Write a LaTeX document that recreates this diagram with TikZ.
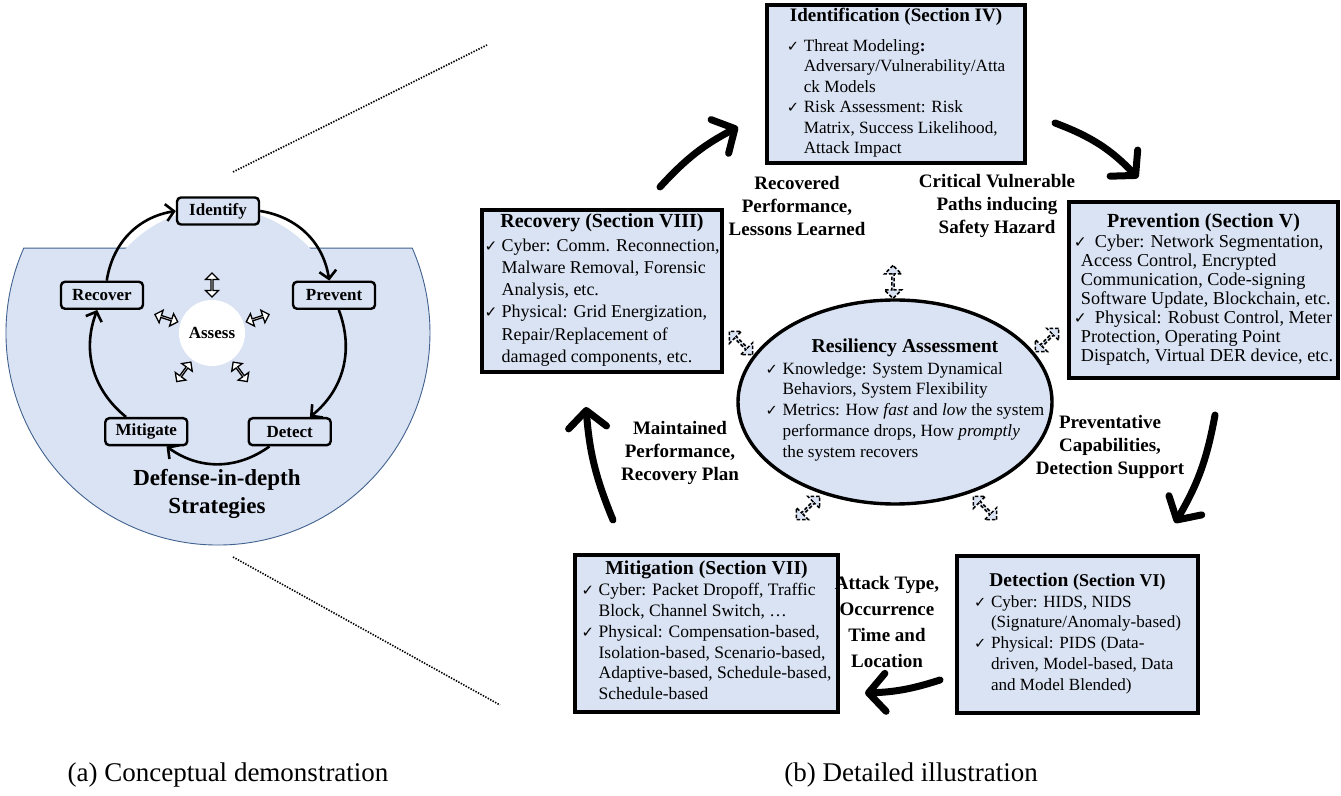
\documentclass[tikz,border=0pt]{standalone}
\usepackage{fontspec}
\setmainfont{Liberation Serif}
\newfontfamily\symf{DejaVu Sans}[Scale=0.85]
\usetikzlibrary{arrows.meta,shapes.arrows,shapes.geometric}
\definecolor{paleblue}{HTML}{DAE3F3}
\definecolor{rimblue}{HTML}{41628F}
\newcommand{\fs}[2]{\fontsize{#1}{#2}\selectfont}
\newcommand{\ck}[1][17pt]{\makebox[#1][l]{\symf ✓}}
\newcommand{\ind}[1][17pt]{\hspace*{#1}}
\tikzset{
  cycbox/.style={draw,line width=2.4pt,rounded corners=4pt,fill=paleblue,
    minimum width=82pt,minimum height=27pt,inner sep=0pt,font=\fs{17}{20}\bfseries},
  cycarr/.style={line width=2.6pt,-{Straight Barb[length=8pt,width=17pt]}},
  wdbl/.style={double arrow,draw,fill=white,line width=1.3pt,minimum height=24pt,
    minimum width=13pt,double arrow head extend=3.5pt,inner sep=0pt},
  secbox/.style={draw,line width=3.6pt,fill=paleblue,align=center,inner sep=0pt},
  ddbl/.style={double arrow,draw,fill=paleblue,line width=1.5pt,dash pattern=on 3.5pt off 2pt,
    minimum height=33pt,minimum width=17pt,double arrow head extend=4.5pt,inner sep=0pt},
  flowlbl/.style={align=center,font=\fs{19}{23}\bfseries},
  bigarr/.style={line width=7pt,line cap=round,-{Straight Barb[length=17pt,width=38pt,round]}},
  zoomline/.style={line width=1.6pt,dash pattern=on 1.4pt off 1.4pt},
}
\begin{document}
\begin{tikzpicture}[x=1pt,y=1pt]
\useasboundingbox (0,0) rectangle (1341,795);
% (a) conceptual part
\coordinate (cc) at (218,462);
\draw[fill=paleblue,draw=rimblue,line width=0.9pt] (cc) ++(156.4:212) arc[start angle=156.4,end angle=383.6,radius=212] -- cycle;
\fill[paleblue] (cc) circle (125);
\node[circle,fill=white,minimum size=66pt,inner sep=0pt,font=\fs{17}{20}\bfseries] (ass) at (212,462) {Assess};
\foreach \a/\n/\t in {90/idf/Identify,18/prv/Prevent,-54/dtc/Detect,-126/mtg/Mitigate,162/rcv/Recover}
  \node[cycbox] (\n) at ([shift={(\a:122)}]cc) {\t};
\foreach \s/\e in {idf/prv,prv/dtc,dtc/mtg,mtg/rcv,rcv/idf}
  \draw[cycarr] (\s) to[bend left=36] (\e);
\foreach \a in {90,18,-54,-126,162}
  \node[wdbl,rotate=\a] (s\a) at ([shift={(\a:48)}]ass) {};
\node[align=center,font=\fs{23}{28}\bfseries] (ttl) at (217,301) {Defense-in-depth\\Strategies};
\coordinate (z1) at (233,623); \coordinate (z2) at (487,750);
\coordinate (z3) at (233,238); \coordinate (z4) at (500,90);
\draw[zoomline] (z1) -- (z2) (z3) -- (z4);
% (b) detailed part
\node[secbox,minimum width=258pt,minimum height=158pt,font=\fs{17.2}{20.5}] (idn) at (896,711)
  {{\fs{19}{20.5}\bfseries Identification (Section IV)}\\[9pt]
   \begin{tabular}[t]{@{}l@{}}
   \ck Threat Modeling\textbf{:}\\
   \ind Adversary/Vulnerability/Atta\\
   \ind ck Models\\
   \ck Risk Assessment: Risk\\
   \ind Matrix, Success Likelihood,\\
   \ind Attack Impact
   \end{tabular}};
\node[secbox,minimum width=269pt,minimum height=176pt,font=\fs{18.2}{19}] (prv2) at (1203.5,505)
  {{\fs{20}{19}\bfseries Prevention (Section V)}\\[1pt]
   \begin{tabular}[t]{@{}l@{}}
   \ck[21pt]Cyber: Network Segmentation,\\
   \ind[7pt]Access Control, Encrypted\\
   \ind[7pt]Communication, Code-signing\\
   \ind[7pt]Software Update, Blockchain, etc.\\
   \ck[21pt]Physical: Robust Control, Meter\\
   \ind[7pt]Protection, Operating Point\\
   \ind[7pt]Dispatch, Virtual DER device, etc.
   \end{tabular}};
\node[secbox,minimum width=241pt,minimum height=157pt,font=\fs{17.1}{20.75}] (det) at (1077.5,160.5)
  {{\fs{19.5}{20.75}\bfseries Detection \fs{18}{20.75}(Section VI)}\\
   \begin{tabular}[t]{@{}l@{}}
   \ck Cyber: HIDS, NIDS\\
   \ind (Signature/Anomaly-based)\\
   \ck Physical: PIDS (Data-\\
   \ind driven, Model-based, Data\\
   \ind and Model Blended)
   \end{tabular}};
\node[secbox,minimum width=263pt,minimum height=157pt,font=\fs{17.5}{20.8}] (mit) at (706.5,161.5)
  {{\fs{19.7}{20.8}\bfseries Mitigation (Section VII)}\\
   \begin{tabular}[t]{@{}l@{}}
   \ck Cyber: Packet Dropoff, Traffic\\
   \ind Block, Channel Switch, …\\
   \ck Physical: Compensation-based,\\
   \ind Isolation-based, Scenario-based,\\
   \ind Adaptive-based, Schedule-based,\\
   \ind Schedule-based
   \end{tabular}};
\node[secbox,minimum width=240pt,minimum height=162pt,font=\fs{18}{22.2}] (rec) at (602,504)
  {{\fs{20}{22.2}\bfseries Recovery (Section VIII)}\\[2pt]
   \begin{tabular}[t]{@{}l@{}}
   \ck Cyber: Comm. Reconnection,\\
   \ind Malware Removal, Forensic\\
   \ind Analysis, etc.\\
   \ck Physical: Grid Energization,\\
   \ind Repair/Replacement of\\
   \ind damaged components, etc.
   \end{tabular}};
\node[draw,ellipse,line width=3.4pt,fill=paleblue,minimum width=314pt,minimum height=204pt,inner sep=0pt] (res) at (895,393) {};
\node[align=center,font=\fs{17.2}{20.75}] (restxt) at (905,394)
  {{\fs{19.7}{20.75}\bfseries Resiliency Assessment}\\[1pt]
   \begin{tabular}[t]{@{}l@{}}
   \ck Knowledge: System Dynamical\\
   \ind Behaviors, System Flexibility\\
   \ck Metrics: How \textit{fast} and \textit{low} the system\\
   \ind performance drops, How \textit{promptly}\\
   \ind the system recovers
   \end{tabular}};
\foreach \x/\y/\r [count=\i] in {893/513/90,741/452/-45,1047/455/45,808/287/45,985/287/-45}
  \node[ddbl,rotate=\r] (d\i) at (\x,\y) {};
% flow labels
\node[flowlbl] (lr) at (797,589) {Recovered\\Performance,\\Lessons Learned};
\node[flowlbl] (cv) at (997,589) {Critical Vulnerable\\Paths inducing\\Safety Hazard};
\node[flowlbl] (pc) at (1110,348) {Preventative\\Capabilities,\\Detection Support};
\node[flowlbl] (mp) at (680,342) {Maintained\\Performance,\\Recovery Plan};
\node[flowlbl,font=\fs{19}{25.7}\bfseries] (atl) at (887,173) {Attack Type,\\Occurrence\\Time and\\Location};
% big cycle arrows
\coordinate (a1) at (660,608); \coordinate (b1) at (738,668);
\coordinate (a2) at (1055,672); \coordinate (b2) at (1138,617);
\coordinate (a3) at (1215,380); \coordinate (b3) at (1175,272);
\coordinate (a4) at (940,115); \coordinate (b4) at (865,102);
\coordinate (a5) at (613,275); \coordinate (b5) at (586,388);
\foreach \s/\e/\b in {a1/b1/10,a2/b2/13,a3/b3/10,a4/b4/8,a5/b5/9}
  \draw[bigarr] (\s) to[bend left=\b] (\e);
% captions
\node[font=\fs{27}{30}] (capa) at (228,20) {(a) Conceptual demonstration};
\node[font=\fs{27}{30}] (capb) at (911,20) {(b) Detailed illustration};
\end{tikzpicture}
\end{document}
